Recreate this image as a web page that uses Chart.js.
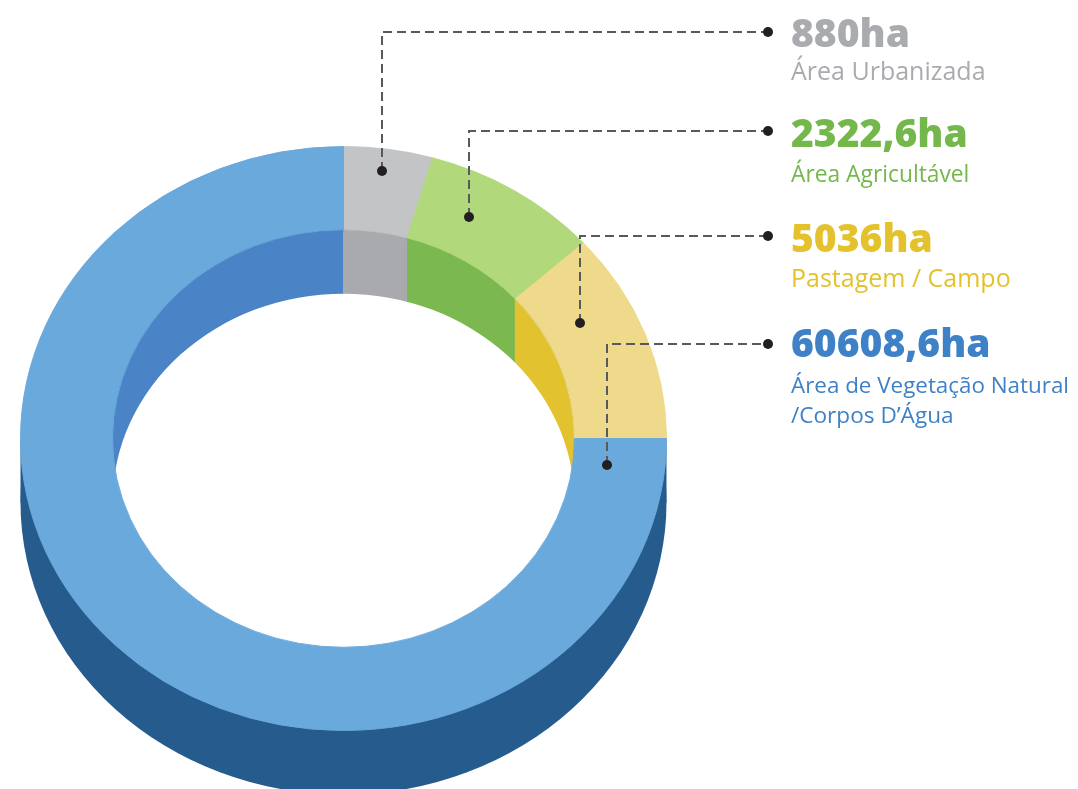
<!DOCTYPE html>
<html lang="pt">
<head>
<meta charset="utf-8">
<title>Uso do solo</title>
<script src="https://cdn.jsdelivr.net/npm/chart.js@4"></script>
<style>
  html, body { margin: 0; padding: 0; background: #fff; overflow: hidden; }
  canvas { display: block; }
</style>
</head>
<body>
<canvas id="landUseChart" width="1078" height="789"></canvas>
<script>
const categories = ['Área Urbanizada', 'Área Agricultável', 'Pastagem / Campo', 'Área de Vegetação Natural'];
const areaLabels = ['880ha', '2322,6ha', '5036ha', '60608,6ha'];
// the slices in the picture are not proportional to the printed hectares, so these are the drawn shares (degrees)
const drawnShares = [16, 32, 42, 270];
const faceColors = ['#c2c4c6', '#b2d87c', '#eeda8a', '#6aa9dc'];
const wallColors = ['#a9aaad', '#7cb850', '#e2c22e', '#4a84c6'];
const textColors = ['#a9abae', '#74b84c', '#e4c22e', '#3f81c6'];

const squash = 292 / 323;
const depth = 64;
const outerWallColor = '#255b8d';

function fillSector(ctx, arc, radius) {
  ctx.beginPath();
  ctx.arc(arc.x, arc.y, radius, arc.startAngle, arc.endAngle);
  ctx.lineTo(arc.x, arc.y);
  ctx.closePath();
  ctx.fill();
}

// squash into an ellipse around the chart centre, shifted down by dy
function inTilt(ctx, arc, dy, draw) {
  ctx.save();
  ctx.translate(arc.x, arc.y + dy);
  ctx.scale(1, squash);
  ctx.translate(-arc.x, -arc.y);
  draw();
  ctx.restore();
}

const tiltPlugin = {
  id: 'tilt',
  beforeDatasetDraw(chart) {
    const ctx = chart.ctx;
    const arcs = chart.getDatasetMeta(0).data;
    const first = arcs[0];
    const disc = radius => {
      ctx.beginPath();
      ctx.arc(first.x, first.y, radius, 0, Math.PI * 2);
      ctx.fill();
    };

    // outer wall
    ctx.fillStyle = outerWallColor;
    inTilt(ctx, first, depth, () => disc(first.outerRadius));
    ctx.fillRect(first.x - first.outerRadius, first.y, first.outerRadius * 2, depth);

    // inner wall, each slice swept straight down so its edges stay vertical.
    // back to front: a slice nearer the top must cover the sweep of the next one
    const order = [3, 2, 1, 0];
    order.forEach(i => {
      ctx.fillStyle = wallColors[i];
      for (let dy = depth; dy >= 0; dy--) {
        inTilt(ctx, first, dy, () => fillSector(ctx, arcs[i], first.innerRadius));
      }
    });

    // the hole, seen through to the bottom edge
    ctx.fillStyle = '#fff';
    inTilt(ctx, first, depth, () => disc(first.innerRadius));

    ctx.save();
    ctx.translate(first.x, first.y);
    ctx.scale(1, squash);
    ctx.translate(-first.x, -first.y);
  },
  afterDatasetDraw(chart) {
    chart.ctx.restore();
  }
};

const leaders = [
  { x: 382, y: 171, top: 32 },
  { x: 469, y: 217, top: 131 },
  { x: 580, y: 323, top: 236 },
  { x: 607, y: 465, top: 344 }
];
const headingY = [47, 147, 252, 357];
const subY = [80, 182, 287, 393];
const subSize = [25, 22.8, 25, 22.4];

const labelPlugin = {
  id: 'labels',
  afterDraw(chart) {
    const ctx = chart.ctx;
    ctx.save();
    leaders.forEach((l, i) => {
      ctx.strokeStyle = '#58595b';
      ctx.lineWidth = 2;
      ctx.setLineDash([9, 5]);
      ctx.beginPath();
      ctx.moveTo(l.x, l.y);
      ctx.lineTo(l.x, l.top);
      ctx.lineTo(768, l.top);
      ctx.stroke();
      ctx.setLineDash([]);
      ctx.fillStyle = '#231f20';
      [[l.x, l.y], [768, l.top]].forEach(p => {
        ctx.beginPath();
        ctx.arc(p[0], p[1], 5, 0, Math.PI * 2);
        ctx.fill();
      });

      ctx.fillStyle = textColors[i];
      ctx.textBaseline = 'alphabetic';
      ctx.font = '800 39px "Open Sans"';
      ctx.fillText(areaLabels[i], 791, headingY[i]);
      ctx.font = subSize[i] + 'px "Open Sans"';
      ctx.fillText(categories[i], 791, subY[i]);
    });
    ctx.font = '22.6px "Open Sans"';
    ctx.fillText('/Corpos D’Água', 791, 423);
    ctx.restore();
  }
};

new Chart(document.getElementById('landUseChart').getContext('2d'), {
  type: 'doughnut',
  data: {
    labels: categories,
    datasets: [{
      data: drawnShares,
      backgroundColor: faceColors,
      // same colour as the fill, hides the hairline seams between slices
      borderColor: faceColors,
      borderWidth: 1,
      hoverOffset: 0
    }]
  },
  options: {
    responsive: false,
    animation: false,
    cutout: '71.5%',
    layout: { padding: { left: 20, right: 411, top: 115, bottom: 27 } },
    plugins: { legend: { display: false }, tooltip: { enabled: false } },
    events: []
  },
  plugins: [tiltPlugin, labelPlugin]
});
</script>
</body>
</html>
